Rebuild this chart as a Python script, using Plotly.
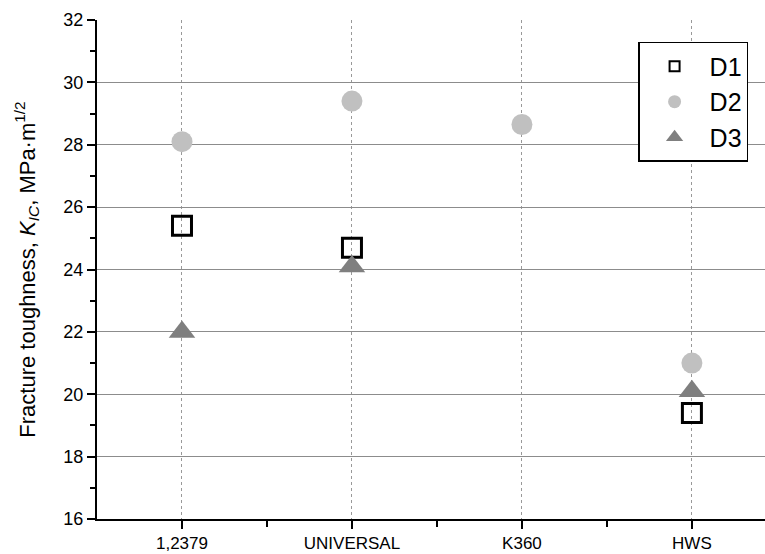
import plotly.graph_objects as go

categories = ["1,2379", "UNIVERSAL", "K360", "HWS"]
x_pos = [1, 2, 3, 4]
d1 = [25.4, 24.7, None, 19.4]
d2 = [28.1, 29.4, 28.65, 21.0]
d3 = [22.0, 24.1, None, 20.1]

fig = go.Figure()
fig.add_trace(go.Scatter(x=x_pos, y=d1, mode="markers", name="D1", showlegend=False,
                         marker=dict(symbol="square-open", size=19, color="black",
                                     line=dict(width=3, color="black"))))
fig.add_trace(go.Scatter(x=x_pos, y=d2, mode="markers", name="D2", showlegend=False,
                         marker=dict(symbol="circle", size=21, color="#c0c0c0")))
fig.add_trace(go.Scatter(x=x_pos, y=d3, mode="markers", name="D3", showlegend=False,
                         marker=dict(symbol="triangle-up", size=23, color="#7f7f7f")))
# legend entries with smaller symbols, as in the reference
fig.add_trace(go.Scatter(x=[None], y=[None], mode="markers", name="D1",
                         marker=dict(symbol="square-open", size=10, color="black",
                                     line=dict(width=2, color="black"))))
fig.add_trace(go.Scatter(x=[None], y=[None], mode="markers", name="D2",
                         marker=dict(symbol="circle", size=13, color="#c0c0c0")))
fig.add_trace(go.Scatter(x=[None], y=[None], mode="markers", name="D3",
                         marker=dict(symbol="triangle-up", size=15, color="#7f7f7f")))

font = "Liberation Sans, Arial, sans-serif"
fig.update_layout(
    width=765, height=554,
    margin=dict(l=97, r=0, t=20, b=35),
    plot_bgcolor="white", paper_bgcolor="white",
    font=dict(family=font, color="black"),
    showlegend=True,
    legend=dict(x=0.81, y=0.956, xanchor="left", yanchor="top",
                bordercolor="black", borderwidth=1.5, bgcolor="white",
                font=dict(size=25, family=font), itemwidth=60,
                itemsizing="trace", tracegroupgap=0),
    xaxis=dict(range=[0.5, 4.43], tickvals=x_pos, ticktext=categories,
               showgrid=True, gridcolor="#999999", griddash="dot", gridwidth=1,
               showline=True, linecolor="black", linewidth=2,
               ticks="outside", ticklen=8, tickwidth=2, tickcolor="black",
               tickfont=dict(size=17), zeroline=False,
               minor=dict(tickvals=[1.5, 2.5, 3.5], ticks="outside", ticklen=6,
                          tickwidth=2, tickcolor="black", showgrid=False)),
    yaxis=dict(range=[16, 32], dtick=2, tick0=16,
               showgrid=True, gridcolor="#8c8c8c", gridwidth=1.2,
               showline=True, linecolor="black", linewidth=2,
               ticks="outside", ticklen=8, tickwidth=2, tickcolor="black",
               tickfont=dict(size=18), zeroline=False,
               title=dict(text="Fracture toughness, <i>K</i><sub><i>IC</i></sub>, MPa·m<sup>1/2</sup>",
                          font=dict(size=22), standoff=22),
               minor=dict(dtick=1, ticks="outside", ticklen=5, tickwidth=2,
                          tickcolor="black", showgrid=False)),
)

fig.write_html("out.html")
